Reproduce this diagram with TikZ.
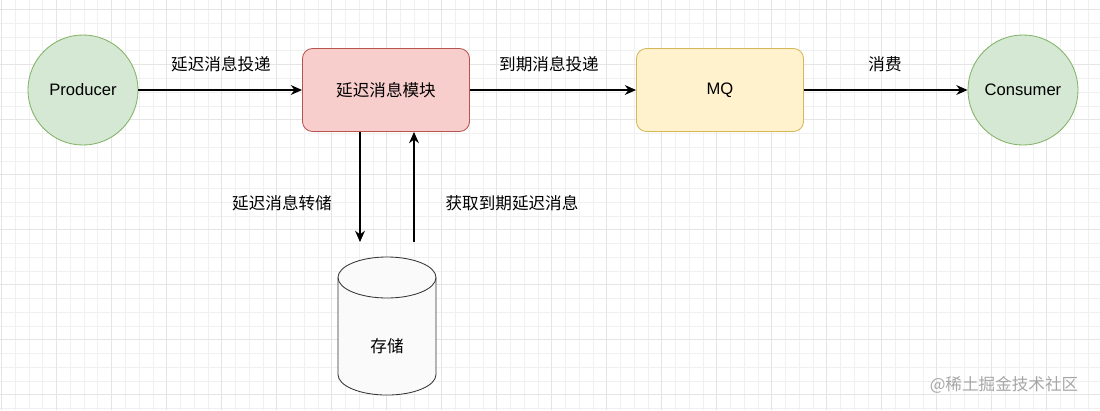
\documentclass[tikz,border=0pt]{standalone}
\usepackage{fontspec}
\setmainfont{Liberation Sans}
\newfontfamily\cjk{Noto Sans CJK SC}
\usetikzlibrary{arrows.meta}

\definecolor{verdefundo}{HTML}{D5E8D4}
\definecolor{verdeborda}{HTML}{82B366}
\definecolor{rosafundo}{HTML}{F8CECC}
\definecolor{rosaborda}{HTML}{B85450}
\definecolor{amarelofundo}{HTML}{FFF2CC}
\definecolor{amareloborda}{HTML}{D6B656}

\begin{document}
\begin{tikzpicture}[
    x=0.025cm, y=-0.025cm,
    % Producer and consumer circles
    ator/.style={
        circle, draw=verdeborda, fill=verdefundo, line width=0.6pt,
        minimum size=2.75cm, inner sep=0pt,
        font=\fontsize{11.8}{14}\selectfont
    },
    % Rounded process boxes
    caixa/.style={
        draw, rounded corners=0.25cm, line width=0.6pt,
        minimum width=4.175cm, minimum height=2.075cm,
        font=\fontsize{11.8}{14}\selectfont
    },
    % Storage body (below the top cap)
    banco/.style={
        minimum width=2.45cm, minimum height=2.425cm, inner sep=0pt,
        font=\cjk\fontsize{11.8}{14}\selectfont
    },
    tampa/.style={x radius=1.225cm, y radius=0.5125cm},
    contorno/.style={draw=black!80, fill=gray!4, line width=0.6pt},
    % Edge labels
    rotulo/.style={font=\cjk\fontsize{11.8}{14}\selectfont},
    linha/.style={draw, line width=0.8pt, -{Stealth[length=8pt, width=7pt]}},
    grade/.style={draw=black!6, line width=0.4pt}
]

% ---- BACKGROUND GRID ----
\useasboundingbox (0,0) rectangle (1100,410);
\begin{scope}[shift={(1.5,9.5)}]
\draw[grade, step=0.34375cm] (-1.5,-9.5) grid (1098.5,400.5);
\draw[grade, draw=black!10, step=1.375cm] (-1.5,-9.5) grid (1098.5,400.5);
\end{scope}

% ---- MAIN ROW ----
\node[ator] (producer) at (83, 90) {Producer};
\node[caixa, draw=rosaborda, fill=rosafundo, font=\cjk\fontsize{11.8}{14}\selectfont]
    (modulo) at (386, 90) {延迟消息模块};
\node[caixa, draw=amareloborda, fill=amarelofundo] (mq) at (720, 90) {MQ};
\node[ator] (consumer) at (1023, 90) {Consumer};

\draw[linha] (producer) -- (modulo);
\draw[linha] (modulo) -- (mq);
\draw[linha] (mq) -- (consumer);

\node[rotulo] (r_envio)   at (221, 64) {延迟消息投递};
\node[rotulo] (r_expira)  at (549, 64) {到期消息投递};
\node[rotulo] (r_consumo) at (885, 64) {消费};

% ---- STORAGE ----
\coordinate (cx) at (387, 346.5);
\path[contorno] ([yshift=0.5125cm, xshift=-1.225cm]cx |- 0,298)
    arc[start angle=180, end angle=0, tampa]
    -- ++(0,-2.425cm)
    arc[start angle=0, end angle=-180, tampa]
    -- cycle;
\draw[contorno, fill=none] ([yshift=0.5125cm, xshift=-1.225cm]cx |- 0,298)
    arc[start angle=180, end angle=360, tampa];
\node[banco] (armazem) at (cx) {存储};

\coordinate (desce) at (360, 242);
\coordinate (sobe)  at (414, 242);
\draw[linha] (modulo.south -| desce) -- (desce);
\draw[linha] (sobe) -- (sobe |- modulo.south);

\node[rotulo] (r_grava) at (282, 203) {延迟消息转储};
\node[rotulo] (r_busca) at (512, 203) {获取到期延迟消息};

% ---- WATERMARK ----
\node[rotulo, text=gray!70] (marca) at (1004, 385) {@稀土掘金技术社区};

\end{tikzpicture}
\end{document}
